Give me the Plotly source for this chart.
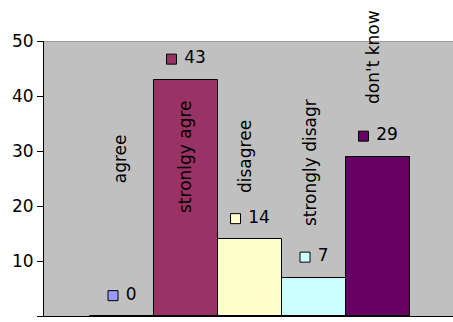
import plotly.graph_objects as go

# survey answers
categories = ["agree", "stronlgy agre", "disagree", "strongly disagr", "don't know"]
counts = [0, 43, 14, 7, 29]
colors = ["#9999FF", "#993366", "#FFFFCC", "#CCFFFF", "#660066"]
y_ticks = [0, 10, 20, 30, 40, 50]

FONT = "DejaVu Sans"
PX_PER_UNIT = 64.0

x_pos = list(range(len(categories)))

fig = go.Figure()

fig.add_trace(go.Bar(
    x=x_pos, y=counts, width=1.0,
    marker=dict(color=colors, line=dict(color="black", width=1)),
    showlegend=False, hoverinfo="skip",
))

# value labels with a little legend key in front of them
key_x = []
for i, c in enumerate(counts):
    text_w = 11 * len(str(c))
    key_x.append(i + (-(10 + 7 + text_w) / 2 + 5) / PX_PER_UNIT)
fig.add_trace(go.Scatter(
    x=key_x, y=[c + 3.7 for c in counts],
    mode="markers+text",
    marker=dict(symbol="square", size=10, color=colors, line=dict(color="black", width=1)),
    text=[" " + str(c) for c in counts],
    textposition="middle right",
    textfont=dict(family=FONT, size=17, color="black"),
    showlegend=False, hoverinfo="skip", cliponaxis=False,
))

# category names, rotated, where excel dropped them
name_y = [28.5, 29.0, 29.0, 27.8, 47.0]
name_dx = [-2, -1.5, -5.5, -4, -5.5]
for i, name in enumerate(categories):
    fig.add_annotation(
        x=i, y=name_y[i], xref="x", yref="y", text=name,
        textangle=-90, showarrow=False, xshift=name_dx[i],
        font=dict(family=FONT, size=17, color="black"),
    )

fig.add_shape(type="line", xref="paper", yref="y", x0=0, x1=1, y0=50, y1=50,
              line=dict(color="#808080", width=1))

fig.update_layout(
    width=453, height=322,
    margin=dict(l=44, r=0, t=41, b=6),
    paper_bgcolor="white", plot_bgcolor="#C0C0C0",
    bargap=0,
)
fig.update_xaxes(
    range=[-(122 - 44) / PX_PER_UNIT, (453 - 122) / PX_PER_UNIT],
    showticklabels=False, showgrid=False, zeroline=False, ticks="",
    showline=True, linecolor="black", linewidth=1,
)
fig.update_yaxes(
    range=[0, 50], tickvals=y_ticks, showgrid=False, zeroline=False,
    ticks="outside", ticklen=6, tickcolor="black",
    showline=True, linecolor="black", linewidth=1,
    tickfont=dict(family=FONT, size=17, color="black"),
)

# the page body has an 8px default margin, drop it so the chart fills the window
fig.write_html(
    "out.html",
    config={"displayModeBar": False},
    post_script="document.body.style.margin='0';",
)
